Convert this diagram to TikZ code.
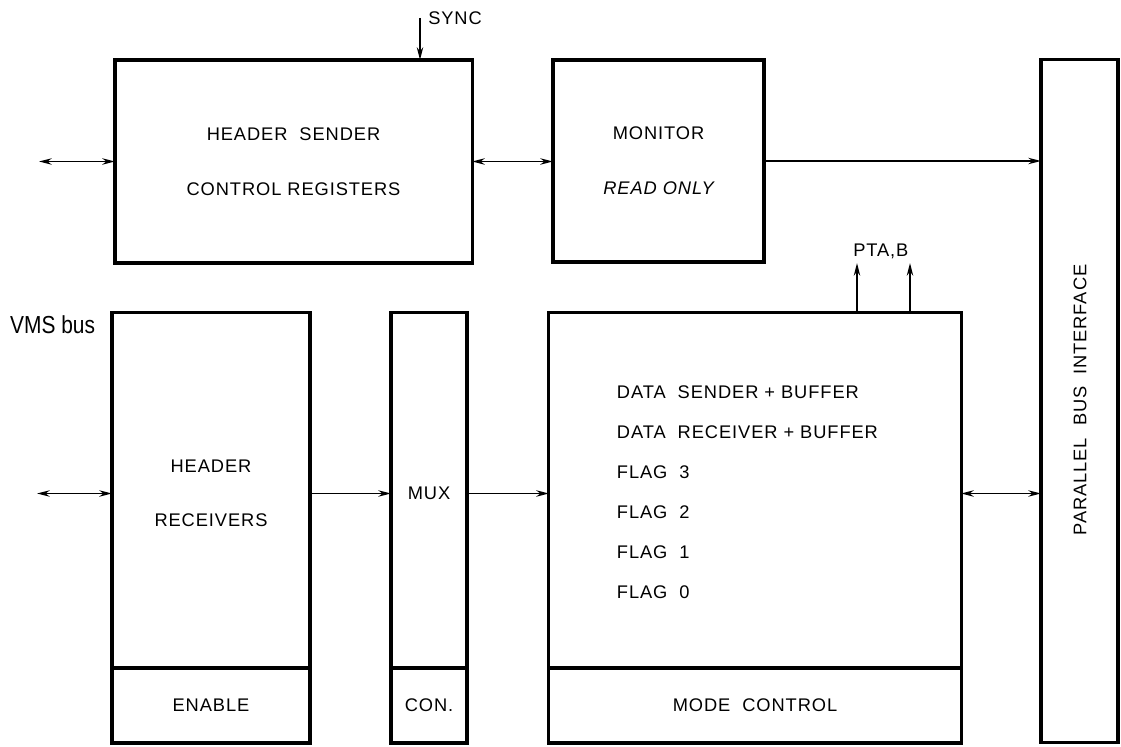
\documentclass[tikz,border=0pt]{standalone}
\usepackage{fontspec}
\setmainfont{Liberation Sans}[LetterSpace=5]
\newfontfamily\busfont{Liberation Sans}
\usetikzlibrary{arrows.meta,calc,positioning}

\begin{document}
\begin{tikzpicture}[x=0.025cm, y=-0.025cm, every node/.style={font=\fontsize{13}{15}\selectfont,align=center},
  blk/.style={draw,line width=2.2pt,outer sep=0pt,inner sep=0pt},
  arr/.style={-{Stealth[length=9pt,width=4.5pt]},line width=1.4pt},
  biarr/.style={{Stealth[length=9pt,width=4.5pt]}-{Stealth[length=9pt,width=4.5pt]},line width=1.4pt}]
  \useasboundingbox (0,0) rectangle (1121,747);
  % upper row
  \node[blk,minimum width=8.925cm,minimum height=5.075cm] (hsend) at (293.5,161.5) {HEADER\ \ SENDER\\[24pt]CONTROL REGISTERS};
  \node[blk,minimum width=5.275cm,minimum height=5.05cm] (mon) at (658.5,161) {MONITOR\\[24pt]{\itshape READ ONLY}};
  \node[blk,minimum width=1.925cm,minimum height=17.05cm] (pbi) at (1079.5,401) {};
  \node[rotate=90] (pbit) at (1080,400) {PARALLEL\ \ BUS\ \ INTERFACE};
  % lower row
  \node[blk,minimum width=4.95cm,minimum height=10.75cm] (hrec) at (211,528) {};
  \node[blk,minimum width=4.95cm,minimum height=1.875cm] (enable) at (211,705.5) {ENABLE};
  \node (hrect) at (211,493.5) {HEADER\\[23pt]RECEIVERS};
  \node[blk,minimum width=1.9cm,minimum height=10.75cm] (mux) at (429,528) {};
  \node[blk,minimum width=1.9cm,minimum height=1.875cm] (con) at (429,705.5) {CON.};
  \node (muxt) at (429,493.5) {MUX};
  \node[blk,minimum width=10.3cm,minimum height=10.75cm] (data) at (755,528) {};
  \node[blk,minimum width=10.3cm,minimum height=1.875cm] (mode) at (755,705.5) {MODE\ \ CONTROL};
  \foreach \ln [count=\i] in {DATA\ \ SENDER + BUFFER,DATA\ \ RECEIVER + BUFFER,FLAG\ \ 3,FLAG\ \ 2,FLAG\ \ 1,FLAG\ \ 0}
    \node[anchor=west] (dl\i) at (612,352+40*\i) {\ln};
  % labels
  \node[anchor=west,font=\busfont\fontsize{17.5}{20}\selectfont,xscale=0.85,transform shape,inner sep=0pt] (vms) at (10,325) {VMS bus};
  \node[anchor=west,inner sep=0pt] (sync) at (428,18) {SYNC};
  \node[anchor=west,inner sep=0pt] (pta) at (853,251) {PTA,B};
  \coordinate (syncin) at (420,18);
  \coordinate (vin1) at (39,161.5);
  \coordinate (vin2) at (37,493.5);
  \coordinate (ptaa) at (857,263);
  \coordinate (ptab) at (910,263);
  % connectors
  \draw[arr] (syncin) -- (syncin |- hsend.north);
  \draw[biarr] (vin1) -- (vin1 -| hsend.west);
  \draw[biarr] (hsend.east) -- (hsend.east -| mon.west);
  \draw[arr] (mon.east) -- (mon.east -| pbi.west);
  \draw[biarr] (vin2) -- (vin2 -| hrec.west);
  \draw[arr] (hrec.east |- muxt) -- (mux.west |- muxt);
  \draw[arr] (mux.east |- muxt) -- (data.west |- muxt);
  \draw[biarr] (data.east |- muxt) -- (pbi.west |- muxt);
  \draw[arr] (ptaa |- data.north) -- (ptaa);
  \draw[arr] (ptab |- data.north) -- (ptab);
\end{tikzpicture}
\end{document}
